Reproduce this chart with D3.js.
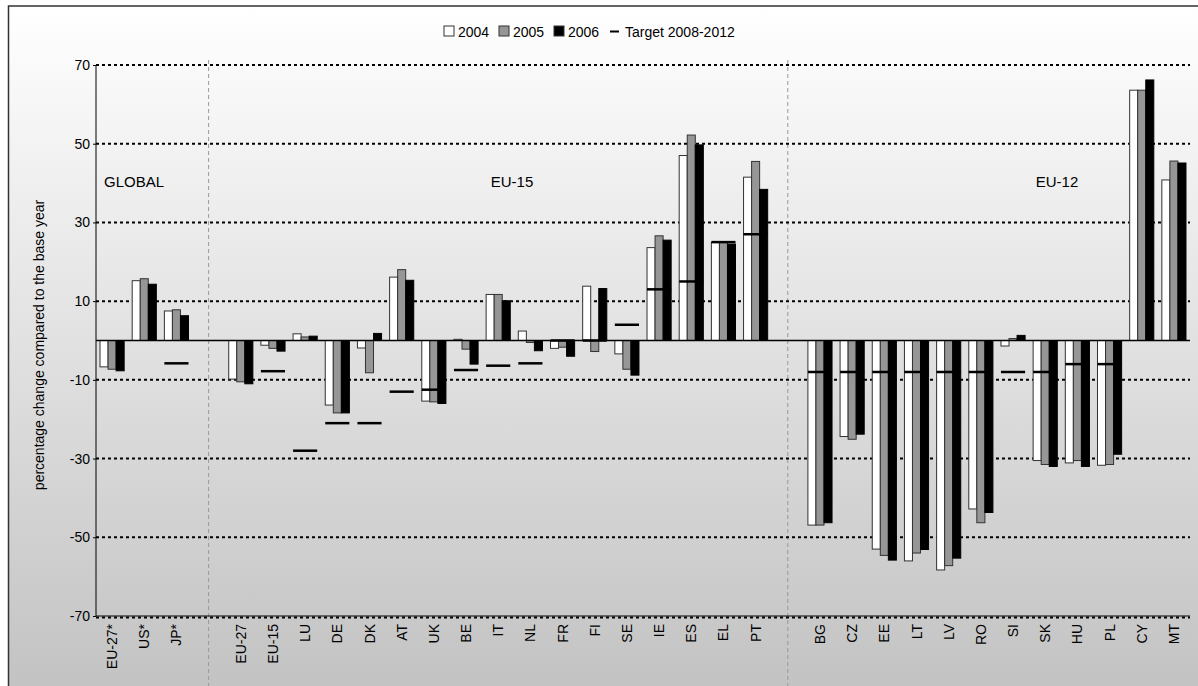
<!DOCTYPE html><html><head><meta charset="utf-8">
<script src="https://cdn.jsdelivr.net/npm/d3@7"></script>
<style>body{margin:0;background:#fff}svg{font-family:"Liberation Sans",Arial,sans-serif}</style></head><body>
<svg id="c" width="1198" height="686"></svg>
<script>
const categories=["EU-27*","US*","JP*","","EU-27","EU-15","LU","DE","DK","AT","UK","BE","IT","NL","FR","FI","SE","IE","ES","EL","PT","","BG","CZ","EE","LT","LV","RO","SI","SK","HU","PL","CY","MT"];
const v2004=[-6.7,15.2,7.5,null,-9.8,-1.2,1.7,-16.4,-1.9,16.1,-15.4,0.3,11.7,2.4,-2,13.8,-3.4,23.6,47,24.9,41.5,null,-46.9,-24.4,-53,-56,-58.3,-42.8,-1.4,-30.5,-31.1,-31.7,63.6,40.8];
const v2005=[-7.3,15.7,7.8,null,-10.5,-2,0.9,-18.4,-8.2,18,-15.6,-2.2,11.7,-0.5,-1.7,-2.8,-7.3,26.6,52.2,25.1,45.5,null,-46.9,-25.1,-54.6,-54,-57.2,-46.3,0.5,-31.5,-30.5,-31.5,63.6,45.6];
const v2006=[-7.7,14.3,6.3,null,-11,-2.7,1.1,-18.4,1.8,15.3,-16,-6,10.1,-2.6,-4,13.2,-8.8,25.5,49.7,24.5,38.4,null,-46.3,-23.8,-55.8,-53.1,-55.3,-43.7,1.3,-32,-32,-28.9,66.2,45.1];
const target=[null,null,-5.8,null,null,-7.8,-28,-21,-21,-13,-12.5,-7.5,-6.4,-5.8,0,0,4,13,15,25,27,null,-8,-8,-8,-8,-8,-8,-8,-8,-6,-6,null,null];
const yTicks=[70,50,30,10,-10,-30,-50,-70];
const groups=[{name:"GLOBAL",x:104,anchor:"start"},{name:"EU-15",x:512,anchor:"middle"},{name:"EU-12",x:1057,anchor:"middle"}];
const seriesNames=["2004","2005","2006"];
const colors=["#ffffff","#969696","#000000"];

const svg=d3.select("#c");
const L=96,R=1190,T=65,B=616;
const defs=svg.append("defs");
const g=defs.append("linearGradient").attr("id","bg").attr("x1",0).attr("y1",0).attr("x2",0).attr("y2",1);
g.append("stop").attr("offset","0").attr("stop-color","#ffffff");
g.append("stop").attr("offset","1").attr("stop-color","#c2c2c2");
svg.append("rect").attr("x",8.5).attr("y",6).attr("width",1200).attr("height",690).attr("fill","url(#bg)").attr("stroke","#333").attr("stroke-width",1.5);

const x=d3.scaleBand().domain(d3.range(categories.length)).range([L,R]).paddingInner(0.25).paddingOuter(0.125);
const y=d3.scaleLinear().domain([-70,70]).range([B,T]);
// separators
[3,21].forEach(i=>{const sx=x(i)+x.bandwidth()/2;svg.append("line").attr("x1",sx).attr("x2",sx).attr("y1",60).attr("y2",686).attr("stroke","#999").attr("stroke-dasharray","4,3");});
// grid
svg.append("g").selectAll("line").data(yTicks).join("line")
 .attr("x1",L).attr("x2",R).attr("y1",d=>y(d)+(d==-70?1.5:0)).attr("y2",d=>y(d)+(d==-70?1.5:0)).attr("stroke","#000").attr("stroke-width",2).attr("stroke-dasharray","3,3");
svg.append("line").attr("x1",L).attr("x2",R).attr("y1",B).attr("y2",B).attr("stroke","#000");
// y axis
const ya=svg.append("g").attr("transform",`translate(${L},0)`).call(d3.axisLeft(y).tickValues(yTicks).tickSize(3).tickFormat(d3.format("d")));
ya.select(".domain").remove();ya.selectAll("line").attr("stroke","#000");
ya.selectAll("text").attr("font-size",14).attr("fill","#000").text(d=>String(d));
svg.append("line").attr("x1",L).attr("x2",L).attr("y1",T).attr("y2",B).attr("stroke","#000");
svg.append("text").attr("transform","translate(44,345) rotate(-90)").attr("text-anchor","middle").attr("font-size",14).text("percentage change compared to the base year");
// bars
const xs=d3.scaleBand().domain([0,1,2]).range([0,x.bandwidth()]);
[v2004,v2005,v2006].forEach((vals,s)=>{
 svg.append("g").selectAll("rect").data(vals.map((v,i)=>({v,i})).filter(d=>d.v!=null)).join("rect")
  .attr("x",d=>x(d.i)+xs(s)).attr("width",xs.bandwidth())
  .attr("y",d=>y(Math.max(0,d.v))).attr("height",d=>Math.abs(y(d.v)-y(0)))
  .attr("fill",colors[s]).attr("stroke",s==2?"#000":"#333").attr("stroke-width",1);
});
svg.append("line").attr("x1",L).attr("x2",R).attr("y1",y(0)).attr("y2",y(0)).attr("stroke","#000").attr("stroke-width",1.5);
// target
svg.append("g").selectAll("line").data(target.map((v,i)=>({v,i})).filter(d=>d.v!=null)).join("line")
 .attr("x1",d=>x(d.i)).attr("x2",d=>x(d.i)+x.bandwidth()).attr("y1",d=>y(d.v)).attr("y2",d=>y(d.v)).attr("stroke","#000").attr("stroke-width",2.5);
// x labels
svg.append("g").selectAll("text").data(categories.map((c,i)=>({c,i})).filter(d=>d.c)).join("text")
 .attr("transform",d=>`translate(${x(d.i)+x.bandwidth()/2+5},${B+8}) rotate(-90)`).attr("text-anchor","end").attr("font-size",14).text(d=>d.c);
// group labels
svg.append("g").selectAll("text").data(groups).join("text").attr("x",d=>d.x).attr("y",187).attr("text-anchor",d=>d.anchor).attr("font-size",15).text(d=>d.name);
// legend
const lg=svg.append("g").attr("font-size",14);
let lx=444;
seriesNames.forEach((n,s)=>{lg.append("rect").attr("x",lx).attr("y",26).attr("width",10).attr("height",10).attr("fill",colors[s]).attr("stroke","#333");
 lg.append("text").attr("x",lx+14).attr("y",37).text(n);lx+=55;});
lg.append("line").attr("x1",lx+1).attr("x2",lx+10).attr("y1",31.5).attr("y2",31.5).attr("stroke","#000").attr("stroke-width",2);
lg.append("text").attr("x",lx+16).attr("y",37).text("Target 2008-2012");
</script></body></html>
